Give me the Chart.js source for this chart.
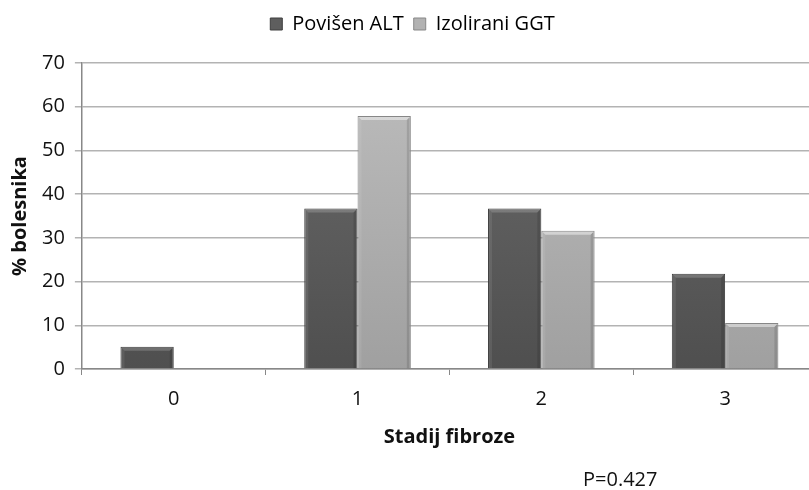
<!DOCTYPE html>
<html>
<head>
<meta charset="utf-8">
<script src="https://cdn.jsdelivr.net/npm/chart.js@4.4.1/dist/chart.umd.min.js"></script>
<style>
  html, body { margin: 0; padding: 0; background: #fff; overflow: hidden; width: 809px; height: 490px; }
  #wrap { position: absolute; left: 0; top: 0; width: 830px; height: 490px; }
  #pval { position: absolute; left: 583px; top: 469px; font-family: "Open Sans", sans-serif; font-size: 20px; color: #111; line-height: 1; }
</style>
</head>
<body>
<div id="wrap"><canvas id="c" width="830" height="490"></canvas></div>
<div id="pval">P=0.427</div>
<script>
const categories = ['0', '1', '2', '3'];
const altValues = [5.1, 36.7, 36.7, 21.8];
const ggtValues = [0, 57.9, 31.6, 10.5];
const seriesNames = ['Povišen ALT', 'Izolirani GGT'];
const yTitle = '% bolesnika';
const xTitle = 'Stadij fibroze';

const FONT = '"Open Sans", sans-serif';
const FS = 20;

function grad(ctx, top, bottom) {
  const chart = ctx.chart;
  const area = chart.chartArea;
  if (!area) return bottom;
  const g = chart.ctx.createLinearGradient(0, area.top, 0, area.bottom);
  g.addColorStop(0, top);
  g.addColorStop(1, bottom);
  return g;
}

const legendMargin = {
  id: 'legendMargin',
  beforeInit(chart) {
    const fit = chart.legend.fit;
    chart.legend.fit = function () {
      fit.bind(chart.legend)();
      this.height += 19;
    };
  }
};

const bevel = {
  id: 'bevel',
  afterDatasetsDraw(chart) {
    const c = chart.ctx;
    chart.data.datasets.forEach((ds, di) => {
      const meta = chart.getDatasetMeta(di);
      meta.data.forEach((bar, i) => {
        const v = ds.data[i];
        if (!v) return;
        const p = bar.getProps(['x', 'y', 'base', 'width'], true);
        const l = p.x - p.width / 2, r = p.x + p.width / 2, t = p.y, b = p.base;
        const s = 4;
        c.save();
        c.fillStyle = di === 0 ? 'rgba(255,255,255,0.18)' : 'rgba(255,255,255,0.45)';
        c.beginPath();
        c.moveTo(l + 1, t + 1); c.lineTo(r - 1, t + 1); c.lineTo(r - s, t + s); c.lineTo(l + s, t + s); c.closePath();
        c.fill();
        c.fillStyle = 'rgba(0,0,0,0.12)';
        c.beginPath();
        c.moveTo(r - 1, t + 1); c.lineTo(r - 1, b); c.lineTo(r - s, b); c.lineTo(r - s, t + s); c.closePath();
        c.fill();
        c.fillStyle = 'rgba(255,255,255,0.08)';
        c.beginPath();
        c.moveTo(l + 1, t + 1); c.lineTo(l + s, t + s); c.lineTo(l + s, b); c.lineTo(l + 1, b); c.closePath();
        c.fill();
        c.restore();
      });
    });
  }
};

new Chart(document.getElementById('c'), {
  type: 'bar',
  data: {
    labels: categories,
    datasets: [
      {
        label: seriesNames[0],
        data: altValues,
        backgroundColor: ctx => grad(ctx, '#6b6b6b', '#4f4f4f'),
        borderColor: '#3e3e3e',
        borderWidth: ctx => (ctx.raw ? 1 : 0),
        borderSkipped: 'bottom',
        barPercentage: 1.0,
        categoryPercentage: 0.58
      },
      {
        label: seriesNames[1],
        data: ggtValues,
        backgroundColor: ctx => grad(ctx, '#bdbdbd', '#a0a0a0'),
        borderColor: '#878787',
        borderWidth: ctx => (ctx.raw ? 1 : 0),
        borderSkipped: 'bottom',
        barPercentage: 1.0,
        categoryPercentage: 0.58
      }
    ]
  },
  options: {
    responsive: false,
    animation: false,
    layout: { padding: { left: 8, right: 13, top: 4, bottom: 37 } },
    plugins: {
      legend: {
        position: 'top',
        labels: {
          boxWidth: 12,
          boxHeight: 12,
          padding: 10,
          color: '#111',
          font: { family: FONT, size: FS },
          generateLabels(chart) {
            return chart.data.datasets.map((ds, i) => ({
              text: ds.label,
              fillStyle: i === 0 ? '#5e5e5e' : '#b2b2b2',
              strokeStyle: i === 0 ? '#3e3e3e' : '#878787',
              lineWidth: 1,
              datasetIndex: i,
              hidden: false
            }));
          }
        }
      },
      tooltip: { enabled: false }
    },
    scales: {
      x: {
        grid: { drawOnChartArea: false, drawTicks: true, tickLength: 6, color: '#888', offset: true },
        border: { color: '#888', width: 1.5 },
        ticks: { color: '#111', font: { family: FONT, size: FS }, padding: 12 },
        title: { display: true, text: xTitle, color: '#111', font: { family: FONT, size: FS, weight: 'bold' }, padding: { top: 2 } }
      },
      y: {
        min: 0,
        max: 70,
        ticks: { stepSize: 10, color: '#111', font: { family: FONT, size: FS }, padding: 10 },
        grid: { color: '#b3b3b3', lineWidth: 1.5, tickLength: 7 },
        border: { color: '#888', width: 1.5 },
        title: { display: true, text: yTitle, color: '#111', font: { family: FONT, size: FS, weight: 'bold' }, padding: { top: 0, bottom: 0 } }
      }
    }
  },
  plugins: [bevel, legendMargin]
});
</script>
</body>
</html>
